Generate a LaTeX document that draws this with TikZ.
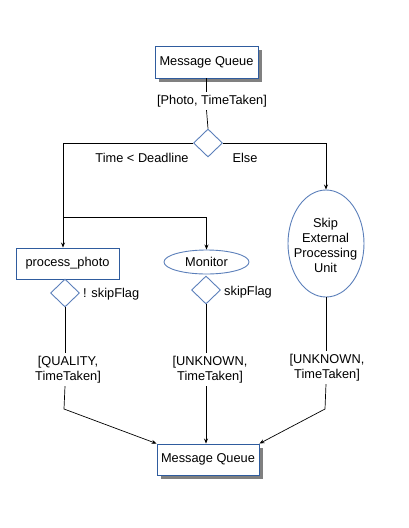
\documentclass[tikz,border=0pt]{standalone}
\usepackage{fontspec}
\setmainfont{Liberation Sans}
\usetikzlibrary{shapes.geometric,shadows,arrows.meta}
\definecolor{boxblue}{HTML}{2F5C9E}
\definecolor{lightblue}{HTML}{5B7FBA}
\begin{document}
\begin{tikzpicture}[x=1pt,y=-1pt,
  every node/.style={font=\fontsize{12.8}{15}\selectfont, inner sep=0pt},
  queue/.style={draw=boxblue, fill=white, line width=0.9pt, minimum width=103pt, minimum height=32pt,
     drop shadow={shadow xshift=4pt, shadow yshift=-4pt, fill=black!50, opacity=1}},
  procbox/.style={draw=boxblue, line width=0.9pt, minimum width=103pt, minimum height=31pt},
  decide/.style={diamond, draw=lightblue, line width=0.9pt, minimum width=29pt, minimum height=28pt, inner sep=0pt},
  oval/.style={ellipse, draw=lightblue, line width=0.9pt, inner sep=0pt},
  lbl/.style={align=center, inner sep=3pt},
  conn/.style={draw=black, line width=0.7pt},
  arr/.style={conn, -{Stealth[length=5pt,width=4pt]}}
]
\useasboundingbox (0,0) rectangle (408,528);

% nodes
\node[queue] (mq1) at (206.5,62) {Message Queue};
\node[lbl] (lp) at (212,101) {[Photo, TimeTaken]};
\node[decide] (d1) at (208,143) {};
\node (tl) at (142,157.5) {Time < Deadline};
\node (el) at (245,157.5) {Else};

\node[procbox] (pp) at (67.5,263.5) {process\_photo};
\node[decide] (d2) at (65,293) {};
\node[anchor=west] (nsf) at (83,294) {! skipFlag};

\node[oval, minimum width=85pt, minimum height=24pt] (mon) at (206.5,262) {Monitor};
\node[decide] (d3) at (206,290) {};
\node[anchor=west] (sf) at (224,292) {skipFlag};

\node[oval, minimum width=76pt, minimum height=107pt] (ske) at (326,243.5) {};
\node[align=center] (sket) at (325.5,245) {Skip\\External\\Processing\\Unit};

\node[lbl] (lq) at (68,369.5) {[QUALITY,\\TimeTaken]};
\node[lbl] (lu1) at (210,369.5) {[UNKNOWN,\\TimeTaken]};
\node[lbl] (lu2) at (327,367.5) {[UNKNOWN,\\TimeTaken]};

\node[queue, minimum width=102pt, minimum height=31pt] (mq2) at (208,459.5) {Message Queue};

\coordinate (j1) at (63,217);
\coordinate (c1) at (64,409);
\coordinate (c2) at (325,409);

% connectors
\draw[conn] (mq1.south) -- (mq1.south |- lp.north);
\draw[conn] (mq1.south |- lp.south) -- (d1.north);
\draw[arr] (d1.west) -| (pp.north -| j1);
\draw[arr] (j1) -| (mon.north);
\draw[arr] (d1.east) -| (ske.north);

\draw[conn] (d2.south) -- (d2.south |- lq.north);
\draw[arr] (d2.south |- lq.south) -- (c1) -- (mq2.north west);

\draw[conn] (d3.south) -- (d3.south |- lu1.north);
\draw[arr] (d3.south |- lu1.south) -- (d3.south |- mq2.north);

\draw[conn] (ske.south) -- (ske.south |- lu2.north);
\draw[arr] (ske.south |- lu2.south) -- (c2) -- (mq2.north east);
\end{tikzpicture}
\end{document}
